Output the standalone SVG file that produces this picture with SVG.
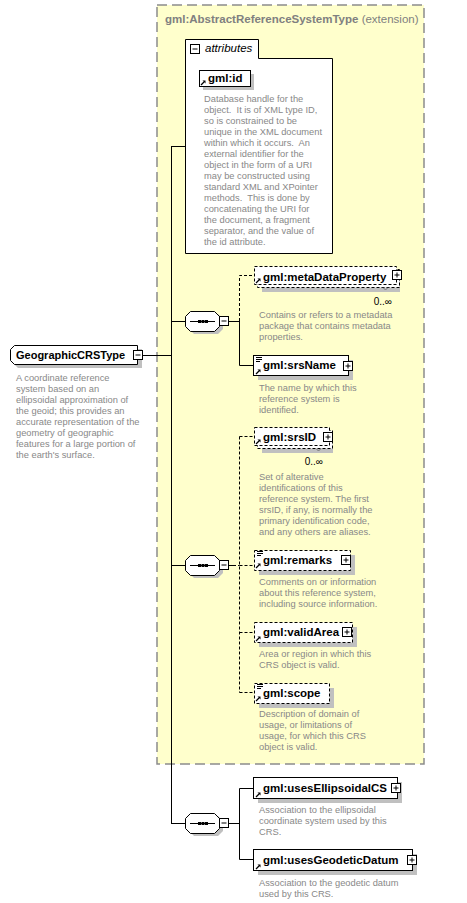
<svg xmlns="http://www.w3.org/2000/svg" xmlns:xlink="http://www.w3.org/1999/xlink" width="467" height="903" viewBox="0 0 467 903">
<style>
  .name{font-family:"Liberation Sans",Arial,sans-serif;font-weight:bold;font-size:11.5px;fill:#000}
  .desc{font-family:"Liberation Sans",Arial,sans-serif;font-size:9.3px;fill:#888}
  .occ{font-family:"Liberation Sans",Arial,sans-serif;font-size:10px;fill:#000}
  .box{fill:#fff;stroke:#000;stroke-width:1}
  .opt{fill:#fff;stroke:#000;stroke-width:1;stroke-dasharray:3 2}
  .shadow{fill:#c0c0c0;stroke:none}
  .line{fill:none;stroke:#000;stroke-width:1}
  .dash{fill:none;stroke:#000;stroke-width:1;stroke-dasharray:3 2}
  .btn{fill:#fff;stroke:#000;stroke-width:1}
</style>
<defs>
  <g id="arrowIcon">
    <path d="M1,5 L4,2" stroke="#000" stroke-width="1.3" fill="none"/>
    <path d="M2.5,0.5 L5.5,0.5 L5.5,3.5 Z" fill="#000"/>
  </g>
  <g id="simpleIcon">
    <path d="M0,0.5 H6 M0,2.5 H6 M0,4.5 H4" stroke="#000" stroke-width="1" fill="none"/>
  </g>
  <g id="plus">
    <rect class="btn" x="0.5" y="0.5" width="9" height="9"/>
    <path d="M2.5,5 H7.5 M5,2.5 V7.5" stroke="#000" stroke-width="1"/>
  </g>
  <g id="minus">
    <rect class="btn" x="0.5" y="0.5" width="9" height="9"/>
    <path d="M2.5,5 H7.5" stroke="#000" stroke-width="1"/>
  </g>
  <g id="seq">
    <path class="shadow" d="M9,3 H33 L38,8 V18 L33,23 H9 L4,18 V8 Z"/>
    <path class="box" d="M5.5,0.5 H29.5 L34.5,5.5 V15.5 L29.5,20.5 H5.5 L0.5,15.5 V5.5 Z"/>
    <path d="M5,10.5 H30" stroke="#000" stroke-width="1"/>
    <rect x="13" y="9" width="3" height="3" fill="#000"/>
    <rect x="16.5" y="9" width="3" height="3" fill="#000"/>
    <rect x="20" y="9" width="3" height="3" fill="#000"/>
  </g>
</defs>

<g id="extension">
  <rect x="157" y="5" width="267" height="759" fill="#ffffcc" stroke="#8c8c8c" stroke-width="1.5" stroke-dasharray="10 5"/>
  <text x="165" y="23" style="font-family:'Liberation Sans',Arial,sans-serif;font-size:11.5px;fill:#808080"><tspan font-weight="bold">gml:AbstractReferenceSystemType</tspan> (extension)</text>
</g>

<g id="attributes">
  <path d="M185.5,39.5 H258.5 V58.5 H332.5 V253.5 H185.5 Z" fill="#fff" stroke="#000" stroke-width="1"/>
  <use href="#minus" x="190" y="44"/>
  <text x="205" y="52" style="font-family:'Liberation Sans',Arial,sans-serif;font-style:italic;font-size:11.5px;fill:#000">attributes</text>
</g>

<g id="attr-gml-id">
  <rect class="shadow" x="203" y="74" width="51" height="16"/>
  <rect class="box" x="199.5" y="70.5" width="51" height="16"/>
  <use href="#arrowIcon" x="200" y="80"/>
  <text class="name" x="208" y="82">gml:id</text>
  <text class="desc">
    <tspan x="204" y="102">Database handle for the</tspan>
    <tspan x="204" y="113">object.&#160; It is of XML type ID,</tspan>
    <tspan x="204" y="124">so is constrained to be</tspan>
    <tspan x="204" y="135">unique in the XML document</tspan>
    <tspan x="204" y="146">within which it occurs.&#160; An</tspan>
    <tspan x="204" y="157">external identifier for the</tspan>
    <tspan x="204" y="168">object in the form of a URI</tspan>
    <tspan x="204" y="179">may be constructed using</tspan>
    <tspan x="204" y="190">standard XML and XPointer</tspan>
    <tspan x="204" y="201">methods.&#160; This is done by</tspan>
    <tspan x="204" y="212">concatenating the URI for</tspan>
    <tspan x="204" y="223">the document, a fragment</tspan>
    <tspan x="204" y="234">separator, and the value of</tspan>
    <tspan x="204" y="245">the id attribute.</tspan>
  </text>
</g>

<g id="connectors">
  <path class="line" d="M143,355.5 H171.5"/>
  <path class="line" d="M171.5,146.5 V823.5"/>
  <path class="line" d="M171,146.5 H185.5"/>
  <path class="line" d="M171,321.5 H185"/>
  <path class="line" d="M171,565.5 H185"/>
  <path class="line" d="M171,823.5 H185"/>
  <path class="line" d="M229,321.5 H239.5"/>
  <path class="dash" d="M239.5,321 V275.5 H254"/>
  <path class="line" d="M239.5,321 V365.5 H253"/>
  <path class="line" d="M229,565.5 H233"/>
  <path class="dash" d="M233,565.5 H239.5"/>
  <path class="dash" d="M239.5,436.5 V692.5"/>
  <path class="dash" d="M239.5,436.5 H254"/>
  <path class="dash" d="M239.5,565.5 H254"/>
  <path class="dash" d="M239.5,632.5 H254"/>
  <path class="dash" d="M239.5,692.5 H254"/>
  <path class="line" d="M229,823.5 H239.5"/>
  <path class="line" d="M239.5,788.5 V859.5"/>
  <path class="line" d="M239.5,788.5 H253"/>
  <path class="line" d="M239.5,859.5 H253"/>
</g>

<g id="node-GeographicCRSType">
  <path class="shadow" d="M18,349 H142 V368 H18 L14,364 V353 Z"/>
  <path class="box" d="M14.5,345.5 H137.5 V364.5 H14.5 L10.5,360.5 V349.5 Z"/>
  <text class="name" x="16" y="359" style="font-size:11px">GeographicCRSType</text>
  <use href="#minus" x="133" y="350"/>
  <text class="desc">
    <tspan x="16" y="381">A coordinate reference</tspan>
    <tspan x="16" y="392">system based on an</tspan>
    <tspan x="16" y="403">ellipsoidal approximation of</tspan>
    <tspan x="16" y="414">the geoid; this provides an</tspan>
    <tspan x="16" y="425">accurate representation of the</tspan>
    <tspan x="16" y="436">geometry of geographic</tspan>
    <tspan x="16" y="447">features for a large portion of</tspan>
    <tspan x="16" y="458">the earth's surface.</tspan>
  </text>
</g>

<g id="sequence-1">
  <use href="#seq" x="185" y="311"/>
  <use href="#minus" x="219" y="316"/>
</g>
<g id="sequence-2">
  <use href="#seq" x="185" y="555"/>
  <use href="#minus" x="219" y="560"/>
</g>
<g id="sequence-3">
  <use href="#seq" x="185" y="813"/>
  <use href="#minus" x="219" y="818"/>
</g>

<g id="el-metaDataProperty">
  <rect class="shadow" x="262" y="274" width="138" height="18"/>
  <rect class="opt" x="257.5" y="269.5" width="142" height="18"/>
  <rect class="opt" x="254.5" y="266.5" width="142" height="18"/>
  <use href="#arrowIcon" x="255" y="278"/>
  <text class="name" x="263" y="281">gml:metaDataProperty</text>
  <use href="#plus" x="392" y="270"/>
  <path d="M383,287.5 L385.5,290 L388,287.5" fill="none" stroke="#777" stroke-width="1"/>
  <text class="occ" x="392" y="305" text-anchor="end">0..∞</text>
  <text class="desc">
    <tspan x="259" y="318">Contains or refers to a metadata</tspan>
    <tspan x="259" y="329">package that contains metadata</tspan>
    <tspan x="259" y="340">properties.</tspan>
  </text>
</g>

<g id="el-srsName">
  <rect class="shadow" x="258" y="360" width="95" height="20"/>
  <rect class="box" x="253.5" y="355.5" width="95" height="20"/>
  <use href="#simpleIcon" x="256" y="357"/>
  <use href="#arrowIcon" x="255" y="369"/>
  <text class="name" x="263" y="369">gml:srsName</text>
  <use href="#plus" x="343" y="361"/>
  <text class="desc">
    <tspan x="259" y="391">The name by which this</tspan>
    <tspan x="259" y="402">reference system is</tspan>
    <tspan x="259" y="413">identified.</tspan>
  </text>
</g>

<g id="el-srsID">
  <rect class="shadow" x="262" y="435" width="71" height="18"/>
  <rect class="opt" x="257.5" y="430.5" width="75" height="18"/>
  <rect class="opt" x="254.5" y="427.5" width="75" height="18"/>
  <use href="#arrowIcon" x="255" y="439"/>
  <text class="name" x="263" y="441">gml:srsID</text>
  <use href="#plus" x="323" y="432"/>
  <path d="M316,448.5 L318.5,451 L321,448.5" fill="none" stroke="#777" stroke-width="1"/>
  <text class="occ" x="323" y="465" text-anchor="end">0..∞</text>
  <text class="desc">
    <tspan x="259" y="480">Set of alterative</tspan>
    <tspan x="259" y="491">identifications of this</tspan>
    <tspan x="259" y="502">reference system. The first</tspan>
    <tspan x="259" y="513">srsID, if any, is normally the</tspan>
    <tspan x="259" y="524">primary identification code,</tspan>
    <tspan x="259" y="535">and any others are aliases.</tspan>
  </text>
</g>

<g id="el-remarks">
  <rect class="shadow" x="259" y="555" width="96" height="20"/>
  <rect class="opt" x="254.5" y="550.5" width="96" height="20"/>
  <use href="#simpleIcon" x="257" y="551"/>
  <use href="#arrowIcon" x="255" y="563"/>
  <text class="name" x="263" y="564">gml:remarks</text>
  <use href="#plus" x="341" y="555"/>
  <text class="desc">
    <tspan x="259" y="585">Comments on or information</tspan>
    <tspan x="259" y="596">about this reference system,</tspan>
    <tspan x="259" y="607">including source information.</tspan>
  </text>
</g>

<g id="el-validArea">
  <rect class="shadow" x="259" y="627" width="98" height="20"/>
  <rect class="opt" x="254.5" y="622.5" width="98" height="20"/>
  <use href="#arrowIcon" x="255" y="636"/>
  <text class="name" x="263" y="636">gml:validArea</text>
  <use href="#plus" x="342" y="627"/>
  <text class="desc">
    <tspan x="259" y="657">Area or region in which this</tspan>
    <tspan x="259" y="668">CRS object is valid.</tspan>
  </text>
</g>

<g id="el-scope">
  <rect class="shadow" x="259" y="688" width="75" height="20"/>
  <rect class="opt" x="254.5" y="683.5" width="75" height="20"/>
  <use href="#simpleIcon" x="257" y="684"/>
  <use href="#arrowIcon" x="255" y="696"/>
  <text class="name" x="263" y="697">gml:scope</text>
  <text class="desc">
    <tspan x="259" y="717">Description of domain of</tspan>
    <tspan x="259" y="728">usage, or limitations of</tspan>
    <tspan x="259" y="739">usage, for which this CRS</tspan>
    <tspan x="259" y="750">object is valid.</tspan>
  </text>
</g>

<g id="el-usesEllipsoidalCS">
  <rect class="shadow" x="258" y="782" width="144" height="21"/>
  <rect class="box" x="253.5" y="777.5" width="144" height="21"/>
  <use href="#arrowIcon" x="255" y="792"/>
  <text class="name" x="263" y="792">gml:usesEllipsoidalCS</text>
  <use href="#plus" x="391" y="783"/>
  <text class="desc">
    <tspan x="259" y="813">Association to the ellipsoidal</tspan>
    <tspan x="259" y="824">coordinate system used by this</tspan>
    <tspan x="259" y="835">CRS.</tspan>
  </text>
</g>

<g id="el-usesGeodeticDatum">
  <rect class="shadow" x="258" y="854" width="159" height="21"/>
  <rect class="box" x="253.5" y="849.5" width="159" height="21"/>
  <use href="#arrowIcon" x="255" y="864"/>
  <text class="name" x="263" y="864">gml:usesGeodeticDatum</text>
  <use href="#plus" x="407" y="855"/>
  <text class="desc">
    <tspan x="259" y="886">Association to the geodetic datum</tspan>
    <tspan x="259" y="897">used by this CRS.</tspan>
  </text>
</g>
</svg>
